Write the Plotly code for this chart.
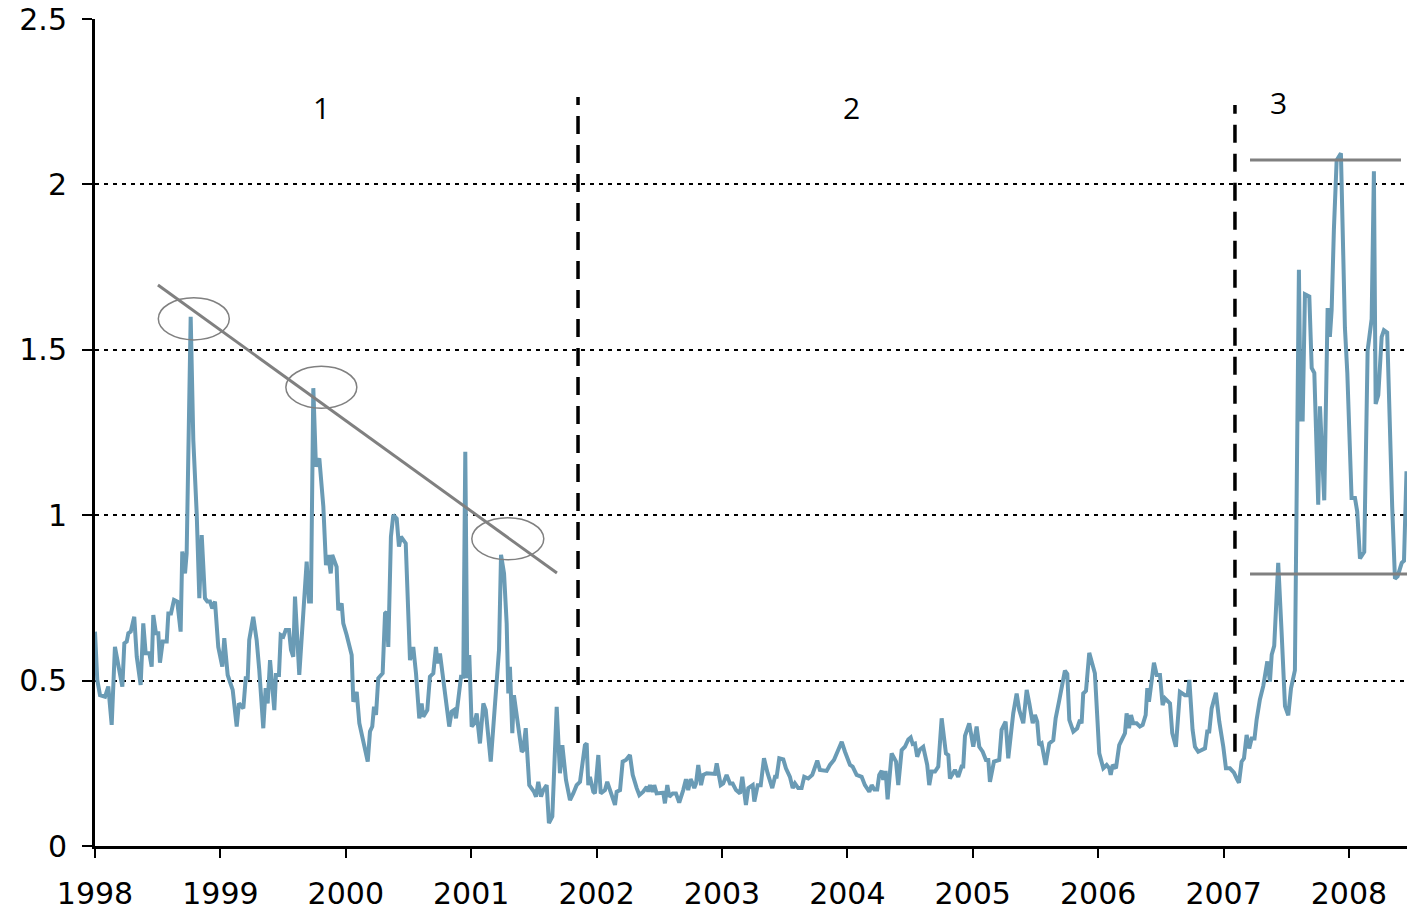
import plotly.graph_objects as go

# ---- series (decimal years, values) ----
years = [
1998.000,1998.018,1998.040,1998.080,1998.106,1998.133,1998.159,1998.186,1998.218,1998.234,
1998.253,1998.266,1998.285,1998.313,1998.333,1998.364,1998.385,1998.404,1998.433,1998.452,
1998.465,1998.486,1998.505,1998.518,1998.540,1998.572,1998.585,1998.606,1998.630,1998.656,
1998.683,1998.696,1998.718,1998.731,1998.763,1998.784,1998.811,1998.832,1998.851,1998.877,
1998.896,1998.917,1998.935,1998.957,1998.983,1999.015,1999.031,1999.058,1999.098,1999.130,
1999.148,1999.183,1999.202,1999.218,1999.230,1999.262,1999.289,1999.310,1999.342,1999.361,
1999.377,1999.396,1999.414,1999.430,1999.443,1999.467,1999.481,1999.502,1999.521,1999.547,
1999.563,1999.581,1999.595,1999.629,1999.661,1999.688,1999.707,1999.722,1999.741,1999.762,
1999.789,1999.821,1999.842,1999.860,1999.880,1999.892,1999.927,1999.940,1999.967,1999.980,
2000.007,2000.047,2000.060,2000.087,2000.108,2000.140,2000.175,2000.193,2000.211,2000.225,
2000.241,2000.259,2000.294,2000.313,2000.326,2000.339,2000.360,2000.379,2000.406,2000.424,
2000.440,2000.478,2000.512,2000.538,2000.560,2000.586,2000.605,2000.618,2000.650,2000.671,
2000.698,2000.719,2000.733,2000.751,2000.791,2000.825,2000.844,2000.863,2000.879,2000.919,
2000.937,2000.953,2000.969,2000.985,2001.004,2001.025,2001.044,2001.070,2001.097,2001.116,
2001.156,2001.182,2001.203,2001.222,2001.238,2001.262,2001.283,2001.296,2001.309,2001.328,
2001.341,2001.368,2001.403,2001.416,2001.435,2001.463,2001.501,2001.517,2001.535,2001.557,
2001.575,2001.602,2001.620,2001.647,2001.682,2001.708,2001.727,2001.756,2001.788,2001.814,
2001.841,2001.868,2001.886,2001.907,2001.921,2001.934,2001.947,2001.974,2001.987,2002.014,
2002.033,2002.067,2002.085,2002.112,2002.147,2002.160,2002.187,2002.208,2002.234,2002.266,
2002.288,2002.320,2002.341,2002.372,2002.400,2002.412,2002.426,2002.447,2002.460,2002.479,
2002.511,2002.532,2002.545,2002.564,2002.580,2002.607,2002.633,2002.659,2002.691,2002.713,
2002.731,2002.750,2002.766,2002.779,2002.793,2002.811,2002.833,2002.851,2002.878,2002.918,
2002.944,2002.958,2002.990,2003.010,2003.037,2003.064,2003.085,2003.112,2003.144,2003.162,
2003.191,2003.210,2003.245,2003.258,2003.285,2003.309,2003.335,2003.364,2003.401,2003.423,
2003.436,2003.457,2003.489,2003.510,2003.542,2003.564,2003.582,2003.608,2003.635,2003.656,
2003.688,2003.720,2003.742,2003.760,2003.781,2003.835,2003.861,2003.893,2003.927,2003.955,
2003.981,2004.007,2004.021,2004.042,2004.074,2004.114,2004.140,2004.175,2004.194,2004.215,
2004.238,2004.254,2004.274,2004.286,2004.305,2004.321,2004.353,2004.388,2004.406,2004.433,
2004.459,2004.486,2004.505,2004.521,2004.539,2004.557,2004.579,2004.605,2004.637,2004.653,
2004.672,2004.699,2004.725,2004.752,2004.786,2004.805,2004.818,2004.858,2004.884,2004.911,
2004.924,2004.938,2004.972,2005.004,2005.031,2005.052,2005.079,2005.105,2005.124,2005.137,
2005.169,2005.211,2005.230,2005.262,2005.283,2005.302,2005.323,2005.350,2005.371,2005.403,
2005.430,2005.451,2005.478,2005.496,2005.514,2005.530,2005.549,2005.581,2005.610,2005.642,
2005.661,2005.690,2005.717,2005.735,2005.754,2005.770,2005.802,2005.833,2005.855,2005.868,
2005.881,2005.903,2005.929,2005.956,2005.974,2006.009,2006.041,2006.068,2006.089,2006.100,
2006.116,2006.142,2006.168,2006.200,2006.214,2006.227,2006.246,2006.262,2006.280,2006.307,
2006.333,2006.355,2006.379,2006.392,2006.405,2006.419,2006.445,2006.467,2006.493,2006.514,
2006.533,2006.573,2006.591,2006.620,2006.639,2006.652,2006.692,2006.714,2006.727,2006.753,
2006.772,2006.798,2006.852,2006.870,2006.886,2006.905,2006.939,2006.966,2006.998,2007.019,
2007.051,2007.083,2007.105,2007.123,2007.144,2007.163,2007.184,2007.205,2007.224,2007.247,
2007.264,2007.290,2007.317,2007.349,2007.370,2007.384,2007.404,2007.436,2007.463,2007.490,
2007.516,2007.538,2007.569,2007.583,2007.601,2007.615,2007.631,2007.649,2007.684,2007.703,
2007.724,2007.755,2007.769,2007.803,2007.830,2007.848,2007.862,2007.880,2007.902,2007.936,
2007.968,2007.987,2008.008,2008.021,2008.048,2008.066,2008.088,2008.122,2008.149,2008.181,
2008.199,2008.213,2008.234,2008.261,2008.279,2008.305,2008.345,2008.367,2008.388,2008.421,
2008.439,2008.459,
]

values = [
0.648,0.502,0.456,0.451,0.482,0.366,0.602,0.553,0.482,0.613,
0.618,0.643,0.648,0.693,0.572,0.487,0.673,0.583,0.583,0.542,
0.698,0.643,0.643,0.554,0.618,0.618,0.703,0.703,0.744,0.739,
0.648,0.890,0.824,0.885,1.600,1.227,1.006,0.749,0.940,0.749,
0.739,0.739,0.718,0.739,0.602,0.542,0.628,0.517,0.472,0.361,
0.431,0.416,0.507,0.507,0.623,0.693,0.623,0.532,0.356,0.477,
0.431,0.562,0.487,0.411,0.517,0.517,0.638,0.633,0.653,0.653,
0.593,0.572,0.754,0.517,0.703,0.860,0.739,0.739,1.384,1.147,
1.172,1.026,0.849,0.880,0.824,0.880,0.844,0.713,0.733,0.673,
0.638,0.577,0.436,0.466,0.371,0.310,0.255,0.346,0.361,0.421,
0.396,0.507,0.522,0.703,0.708,0.602,0.935,1.001,0.990,0.905,
0.935,0.915,0.562,0.602,0.522,0.386,0.431,0.391,0.411,0.512,
0.522,0.602,0.552,0.582,0.451,0.361,0.406,0.411,0.386,0.512,
0.512,1.192,0.507,0.577,0.361,0.371,0.401,0.310,0.431,0.411,
0.255,0.381,0.482,0.593,0.880,0.824,0.673,0.461,0.542,0.341,
0.456,0.381,0.285,0.290,0.356,0.184,0.164,0.149,0.194,0.149,
0.169,0.184,0.069,0.089,0.421,0.220,0.305,0.200,0.139,0.159,
0.184,0.194,0.250,0.305,0.310,0.184,0.209,0.164,0.159,0.275,
0.159,0.169,0.194,0.159,0.124,0.164,0.169,0.255,0.260,0.275,
0.215,0.175,0.154,0.164,0.179,0.164,0.184,0.164,0.184,0.159,
0.159,0.161,0.129,0.184,0.149,0.159,0.159,0.131,0.169,0.202,
0.169,0.202,0.189,0.175,0.189,0.245,0.184,0.215,0.220,0.218,
0.218,0.250,0.184,0.189,0.215,0.189,0.189,0.169,0.159,0.209,
0.124,0.175,0.184,0.134,0.184,0.184,0.265,0.220,0.175,0.209,
0.209,0.265,0.262,0.235,0.209,0.175,0.189,0.175,0.175,0.209,
0.204,0.215,0.235,0.258,0.230,0.227,0.245,0.260,0.290,0.315,
0.285,0.255,0.245,0.240,0.215,0.209,0.184,0.164,0.184,0.171,
0.171,0.215,0.227,0.200,0.227,0.141,0.280,0.255,0.184,0.290,
0.300,0.322,0.328,0.308,0.310,0.270,0.292,0.300,0.245,0.184,
0.225,0.225,0.240,0.386,0.280,0.275,0.204,0.230,0.209,0.240,
0.240,0.333,0.371,0.300,0.361,0.300,0.285,0.260,0.260,0.194,
0.255,0.260,0.351,0.376,0.265,0.330,0.401,0.461,0.411,0.371,
0.472,0.431,0.371,0.396,0.376,0.305,0.310,0.245,0.310,0.320,
0.386,0.441,0.497,0.530,0.520,0.381,0.346,0.356,0.381,0.371,
0.461,0.469,0.584,0.552,0.522,0.280,0.235,0.245,0.235,0.215,
0.245,0.235,0.305,0.330,0.341,0.401,0.356,0.396,0.371,0.371,
0.361,0.366,0.396,0.477,0.436,0.477,0.554,0.517,0.517,0.426,
0.446,0.431,0.341,0.300,0.391,0.466,0.456,0.456,0.502,0.351,
0.300,0.285,0.295,0.346,0.346,0.416,0.463,0.376,0.300,0.235,
0.235,0.222,0.204,0.191,0.255,0.265,0.336,0.295,0.325,0.325,
0.382,0.443,0.484,0.558,0.497,0.578,0.605,0.856,0.646,0.423,
0.395,0.477,0.531,1.025,1.742,1.289,1.289,1.668,1.661,1.445,
1.430,1.032,1.329,1.045,1.626,1.539,1.620,1.864,2.073,2.094,
1.566,1.430,1.160,1.052,1.052,1.011,0.869,0.889,1.498,1.593,
2.040,1.336,1.363,1.539,1.559,1.552,1.025,0.808,0.815,0.856,
0.862,1.133,
]

year_ticks = list(range(1998, 2009))
y_ticks = [0, 0.5, 1, 1.5, 2, 2.5]
y_tick_labels = ["0", "0.5", "1", "1.5", "2", "2.5"]

# ---- annotation elements ----
trend_x = [1998.502, 2001.684]
trend_y = [1.696, 0.825]
ellipses = [  # (x0, x1, y0, y1)
    (1998.505, 1999.071, 1.530, 1.657),
    (1999.522, 2000.088, 1.323, 1.450),
    (2001.005, 2001.579, 0.865, 0.992),
]
regime_breaks = [(2001.852, 0.311, 2.264), (2007.091, 0.285, 2.240)]
band_x = [2007.211, 2008.415]
band_top = 2.074
band_bottom = 0.822
band_bottom_x1 = 2008.463
regime_labels = [("1", 1999.805, 2.231), ("2", 2004.029, 2.231), ("3", 2007.442, 2.249)]

X_MIN, X_MAX = 1998.0, 2008.463
LINE_COLOR = "#6a9bb5"
GRAY = "#808080"

fig = go.Figure()

fig.add_trace(go.Scatter(
    x=years, y=values, mode="lines",
    line=dict(color=LINE_COLOR, width=4),
    showlegend=False, hoverinfo="skip",
))

fig.add_trace(go.Scatter(
    x=trend_x, y=trend_y, mode="lines",
    line=dict(color=GRAY, width=3), showlegend=False, hoverinfo="skip",
))

for x, y0, y1 in regime_breaks:
    fig.add_trace(go.Scatter(
        x=[x, x], y=[y0, y1], mode="lines",
        line=dict(color="black", width=3.5, dash="18px,11px"),
        showlegend=False, hoverinfo="skip",
    ))

fig.add_trace(go.Scatter(
    x=band_x, y=[band_top, band_top], mode="lines",
    line=dict(color=GRAY, width=3), showlegend=False, hoverinfo="skip",
))
fig.add_trace(go.Scatter(
    x=[band_x[0], band_bottom_x1], y=[band_bottom, band_bottom], mode="lines",
    line=dict(color=GRAY, width=3), showlegend=False, hoverinfo="skip",
))

for (x0, x1, y0, y1) in ellipses:
    fig.add_shape(type="circle", xref="x", yref="y", x0=x0, x1=x1, y0=y0, y1=y1,
                  line=dict(color=GRAY, width=1.5), layer="above")

for txt, x, y in regime_labels:
    fig.add_annotation(x=x, y=y, text=txt, showarrow=False,
                       font=dict(family="Open Sans", size=30, color="black"))

fig.update_layout(
    width=1407, height=911,
    margin=dict(l=95, r=0, t=19, b=65),
    paper_bgcolor="white", plot_bgcolor="white",
    font=dict(family="DejaVu Sans", size=30, color="black"),
    showlegend=False,
)

fig.update_xaxes(
    range=[X_MIN, X_MAX], tickmode="array", tickvals=year_ticks,
    ticktext=[str(y) for y in year_ticks],
    showgrid=False, zeroline=False,
    showline=True, linecolor="black", linewidth=3,
    ticks="outside", ticklen=9, tickwidth=2, tickcolor="black",
    ticklabelstandoff=10,
)
fig.update_yaxes(
    range=[0, 2.5], tickmode="array", tickvals=y_ticks, ticktext=y_tick_labels,
    showgrid=True, gridcolor="black", gridwidth=2, griddash="4px,5px",
    zeroline=False,
    showline=True, linecolor="black", linewidth=3,
    ticks="outside", ticklen=10, tickwidth=2, tickcolor="black",
    ticklabelstandoff=9,
)

fig.write_html("out.html", config={"displayModeBar": False},
               post_script="document.body.style.margin='0';")
